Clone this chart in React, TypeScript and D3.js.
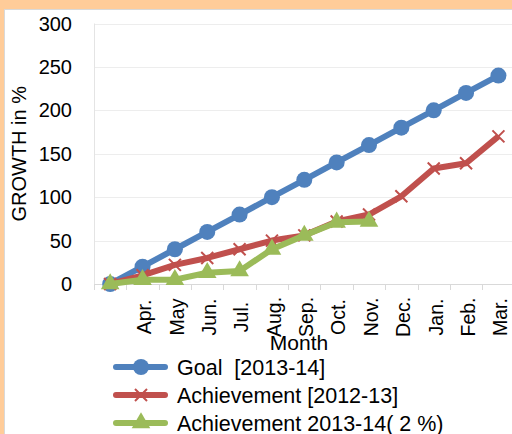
import { useEffect, useRef } from 'react'
import * as d3 from 'd3'

const months = ['', 'Apr.', 'May', 'Jun.', 'Jul.', 'Aug.', 'Sep.', 'Oct.', 'Nov.', 'Dec.', 'Jan.', 'Feb.', 'Mar.']
const goal = [0, 20, 40, 60, 80, 100, 120, 140, 160, 180, 200, 220, 240]
const ach1213 = [0, 10, 22, 30, 40, 50, 56, 72, 80, 101, 133, 139, 170]
const ach1314 = [0, 5, 5, 13, 15, 40, 56, 71, 72]
const yTicks = [0, 50, 100, 150, 200, 250, 300]
const legendNames = ['Goal  [2013-14]', 'Achievement [2012-13]', 'Achievement 2013-14( 2 %)']

const BLUE = '#4F81BD'
const RED = '#C0504D'
const GREEN = '#9BBB59'
const FONT = '"Liberation Sans", Arial, sans-serif'

export default function App() {
  const ref = useRef<SVGSVGElement | null>(null)

  useEffect(() => {
    const svg = d3.select(ref.current)
    svg.selectAll('*').remove()

    // * frame
    svg.append('rect').attr('width', 512).attr('height', 434).attr('fill', '#FFCC99')
    svg.append('rect')
      .attr('x', 4.5).attr('y', 9.5).attr('width', 520).attr('height', 440)
      .attr('fill', '#fff').attr('stroke', '#D9D9D9')

    // * scales
    const x = d3.scaleBand<number>()
      .domain(months.map((_, i) => i))
      .range([94, 514.6])
    const y = d3.scaleLinear().domain([0, 300]).range([284, 23.5])
    const cx = (i: number) => x(i)! + x.bandwidth() / 2

    // * gridlines
    svg.append('g')
      .selectAll('line')
      .data(yTicks.slice(1))
      .join('line')
      .attr('x1', 94).attr('x2', 515)
      .attr('y1', (d) => Math.round(y(d)) + 0.5).attr('y2', (d) => Math.round(y(d)) + 0.5)
      .attr('stroke', '#EDEDED')

    svg.append('line')
      .attr('x1', 94.5).attr('x2', 94.5).attr('y1', y(300)).attr('y2', y(0))
      .attr('stroke', '#E4E4E4')

    // * x axis
    const xAxis = svg.append('g')
    xAxis.append('line')
      .attr('x1', 94).attr('x2', 515).attr('y1', 284.5).attr('y2', 284.5)
      .attr('stroke', '#D9D9D9')
    xAxis.selectAll('.tick')
      .data(months.map((_, i) => i))
      .join('line')
      .attr('class', 'tick')
      .attr('x1', (d) => Math.round(x(d)!) + 0.5).attr('x2', (d) => Math.round(x(d)!) + 0.5)
      .attr('y1', 284).attr('y2', 290)
      .attr('stroke', '#D9D9D9')
    xAxis.selectAll('.lbl')
      .data(months)
      .join('text')
      .attr('class', 'lbl')
      .attr('transform', (_, i) => `translate(${cx(i) + 2},317) rotate(-90)`)
      .attr('text-anchor', 'middle')
      .attr('dy', '0.35em')
      .attr('font-family', FONT)
      .attr('font-size', 19.5)
      .attr('fill', '#000')
      .text((d) => d)

    // * y axis labels
    svg.append('g')
      .selectAll('text')
      .data(yTicks)
      .join('text')
      .attr('x', 72).attr('y', (d) => y(d))
      .attr('dy', '0.35em')
      .attr('text-anchor', 'end')
      .attr('font-family', FONT)
      .attr('font-size', 20)
      .text((d) => d)

    svg.append('text')
      .attr('transform', `translate(26,${(y(0) + y(300)) / 2}) rotate(-90)`)
      .attr('text-anchor', 'middle')
      .attr('font-family', FONT)
      .attr('font-size', 20)
      .text('GROWTH in %')

    svg.append('text')
      .attr('x', 299).attr('y', 350)
      .attr('text-anchor', 'middle')
      .attr('font-family', FONT)
      .attr('font-size', 21)
      .text('Month')

    // * lines
    const line = d3.line<number>()
      .x((_, i) => cx(i))
      .y((d) => y(d))

    const cross = 'M-6,-6L6,6M-6,6L6,-6'
    const tri = d3.symbol(d3.symbolTriangle, 150)()!

    const series = [
      { data: goal, color: BLUE },
      { data: ach1213, color: RED },
      { data: ach1314, color: GREEN },
    ]

    series.forEach((s, k) => {
      const g = svg.append('g')
      g.append('path')
        .attr('d', line(s.data)!)
        .attr('fill', 'none')
        .attr('stroke', s.color)
        .attr('stroke-width', 6)
        .attr('stroke-linejoin', 'round')
      const pts = g.selectAll('.pt').data(s.data).join('g')
        .attr('transform', (d, i) => `translate(${cx(i)},${y(d)})`)
      if (k === 0) pts.append('circle').attr('r', 8).attr('fill', BLUE)
      if (k === 1) pts.append('path').attr('d', cross).attr('stroke', RED).attr('stroke-width', 2)
      if (k === 2) pts.append('path').attr('d', tri).attr('fill', GREEN)
    })

    // * legend
    const legend = svg.append('g')
    legendNames.forEach((name, k) => {
      const ly = 367 + k * 28
      const color = series[k].color
      legend.append('line')
        .attr('x1', 116).attr('x2', 165).attr('y1', ly).attr('y2', ly)
        .attr('stroke', color).attr('stroke-width', 6).attr('stroke-linecap', 'round')
      const m = legend.append('g').attr('transform', `translate(141,${ly})`)
      if (k === 0) m.append('circle').attr('r', 8).attr('fill', BLUE)
      if (k === 1) m.append('path').attr('d', cross).attr('stroke', RED).attr('stroke-width', 2)
      if (k === 2) m.append('path').attr('d', tri).attr('fill', GREEN)
      legend.append('text')
        .attr('x', 177).attr('y', ly)
        .attr('dy', '0.35em')
        .attr('font-family', FONT)
        .attr('font-size', 21.5)
        .style('white-space', 'pre')
        .text(name)
    })
  }, [])

  return (
    <div style={{ position: 'fixed', left: 0, top: 0 }}>
      <svg width={512} height={434} ref={ref} style={{ display: 'block' }} />
    </div>
  )
}
